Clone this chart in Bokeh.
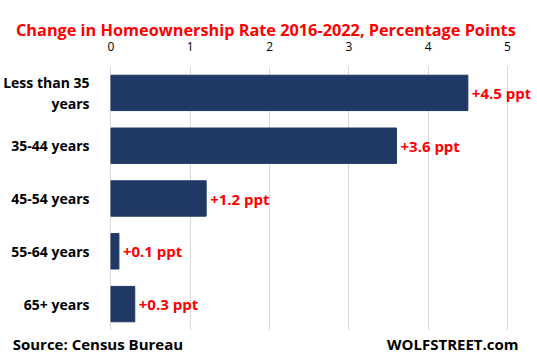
from bokeh.plotting import figure
from bokeh.models import ColumnDataSource, FactorRange, Range1d, FixedTicker, LinearAxis
from bokeh.core.properties import value
from bokeh.embed import file_html
from bokeh.resources import INLINE

# ---- data ----
categories = ["Less than 35\nyears", "35-44 years", "45-54 years", "55-64 years", "65+ years"]
changes = [4.5, 3.6, 1.2, 0.1, 0.3]
labels = [f"+{v} ppt" for v in changes]
x_ticks = [0, 1, 2, 3, 4, 5]
title_text = "Change in Homeownership Rate 2016-2022,  Percentage Points"
source_text = "Source: Census Bureau"
brand_text = "WOLFSTREET.com"

FONT = "Open Sans"
RED = "#FF0000"
NAVY = "#203864"

src = ColumnDataSource(dict(cat=categories, val=changes, lab=labels))

X0, X1 = -0.17, 5.29
p = figure(frame_width=433, frame_height=264, output_backend="svg", toolbar_location=None,
           y_range=FactorRange(factors=list(reversed(categories))),
           x_range=Range1d(X0, X1), x_axis_location="above",
           min_border_left=95, min_border_right=1, min_border_top=66, min_border_bottom=24)
p.outline_line_color = None
p.background_fill_color = "white"
p.border_fill_color = "white"
p.title.visible = False

p.hbar(y="cat", right="val", left=0, height=0.67, color=NAVY, source=src)
p.text(x="val", y="cat", text="lab", source=src, x_offset=4, text_baseline="middle",
       text_color=RED, text_font=value(FONT), text_font_style="bold", text_font_size="15px")


def plain_axis(ax):
    ax.axis_line_color = None
    ax.major_tick_line_color = None
    ax.minor_tick_line_color = None
    ax.major_tick_out = 0
    ax.major_tick_in = 0
    ax.minor_tick_out = 0
    ax.minor_tick_in = 0


xa = p.xaxis[0]
xa.ticker = FixedTicker(ticks=x_ticks)
plain_axis(xa)
xa.major_label_text_font = FONT
xa.major_label_text_font_size = "12px"
xa.major_label_text_color = "black"
xa.major_label_standoff = 16

ya = p.yaxis[0]
ya.axis_line_color = None
ya.major_tick_line_color = None
ya.major_label_text_font = FONT
ya.major_label_text_font_style = "bold"
ya.major_label_text_font_size = "14px"
ya.major_label_text_line_height = 1.1
ya.major_label_text_color = "black"
ya.major_label_standoff = 2

p.xgrid.ticker = FixedTicker(ticks=x_ticks)
p.xgrid.grid_line_color = "#d9d9d9"
p.ygrid.grid_line_color = None

# title as the single tick label of an outer top axis
title_pos = 1.98
tax = LinearAxis(ticker=FixedTicker(ticks=[title_pos]),
                 major_label_overrides={title_pos: title_text})
plain_axis(tax)
tax.major_label_text_font = FONT
tax.major_label_text_font_style = "bold"
tax.major_label_text_font_size = "16.3px"
tax.major_label_text_color = RED
tax.major_label_standoff = -2
p.add_layout(tax, "above")

# footer texts as tick labels of a bottom axis
foot_pos = [-0.165, 4.31]
foot = LinearAxis(ticker=FixedTicker(ticks=foot_pos),
                  major_label_overrides={foot_pos[0]: source_text, foot_pos[1]: brand_text})
plain_axis(foot)
foot.major_label_text_font = FONT
foot.major_label_text_font_style = "bold"
foot.major_label_text_font_size = "15px"
foot.major_label_text_color = "black"
foot.major_label_standoff = 3
p.add_layout(foot, "below")

open("out.html", "w").write(file_html(p, INLINE))
